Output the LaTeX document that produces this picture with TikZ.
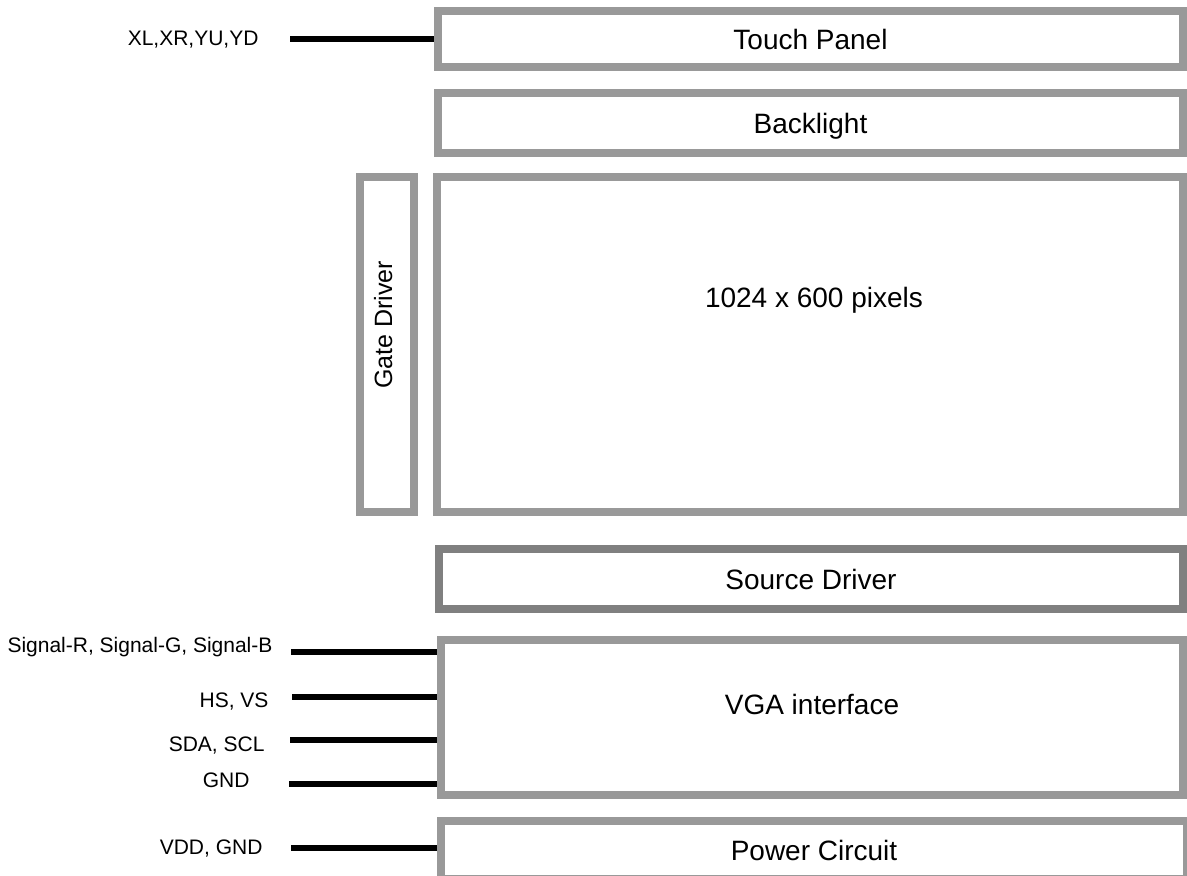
\documentclass[tikz,border=0pt]{standalone}
\usepackage{fontspec}
\setmainfont{Liberation Sans}
\definecolor{boxgray}{HTML}{999999}
\definecolor{srcgray}{HTML}{808080}

\begin{document}
\begin{tikzpicture}[x=1pt, y=-1pt,
    caption/.style={font=\fontsize{28}{32}\selectfont, text height=20pt, text depth=0pt},
    block/.style={rectangle, draw=boxgray, line width=8pt, inner sep=0pt, caption},
    sig/.style={anchor=east, font=\fontsize{21}{25}\selectfont, text height=15pt, text depth=0pt},
    wire/.style={line width=5.5pt}]
    \useasboundingbox (0,0) rectangle (1187,876);

    % Blocks
    \node[block, minimum width=745pt, minimum height=56pt] (touch) at (810.5,39) {Touch Panel};
    \node[block, minimum width=745pt, minimum height=60pt] (back) at (810.5,123) {Backlight};
    \node[block, minimum width=746pt, minimum height=335pt] (panel) at (810,344.5) {};
    \node[block, minimum width=54pt, minimum height=335pt] (gate) at (387,344.5) {};
    \node[block, draw=srcgray, minimum width=744pt, minimum height=60pt] (source) at (811,579) {Source Driver};
    \node[block, minimum width=742pt, minimum height=155pt] (vga) at (812,717.5) {};
    \node[block, minimum width=746pt, minimum height=58pt] (power) at (814,850) {Power Circuit};

    % Texts that sit off centre
    \node[caption] (pixels) at (814,297) {1024 x 600 pixels};
    \node[caption, font=\fontsize{25}{29}\selectfont, text height=18pt, rotate=90] (gatetxt) at (383,325) {Gate Driver};
    \node[caption] (vgatxt) at (812,704) {VGA interface};

    % Signal names
    \node[sig] (xy) at (262,38) {XL,XR,YU,YD};
    \node[sig] (rgb) at (276,645) {Signal-R, Signal-G, Signal-B};
    \node[sig] (sync) at (272,700) {HS, VS};
    \node[sig] (ddc) at (268,744) {SDA, SCL};
    \node[sig] (gnd) at (253,780) {GND};
    \node[sig] (supply) at (266,847) {VDD, GND};

    % Wires
    \coordinate (xyin) at (290,39);
    \coordinate (rgbin) at (291,652);
    \coordinate (syncin) at (292,697);
    \coordinate (ddcin) at (290,740);
    \coordinate (gndin) at (289,784);
    \coordinate (supplyin) at (291,848);
    \draw[wire] (xyin) -- (xyin -| touch.west);
    \draw[wire] (rgbin) -- (rgbin -| vga.west);
    \draw[wire] (syncin) -- (syncin -| vga.west);
    \draw[wire] (ddcin) -- (ddcin -| vga.west);
    \draw[wire] (gndin) -- (gndin -| vga.west);
    \draw[wire] (supplyin) -- (supplyin -| power.west);
\end{tikzpicture}
\end{document}
